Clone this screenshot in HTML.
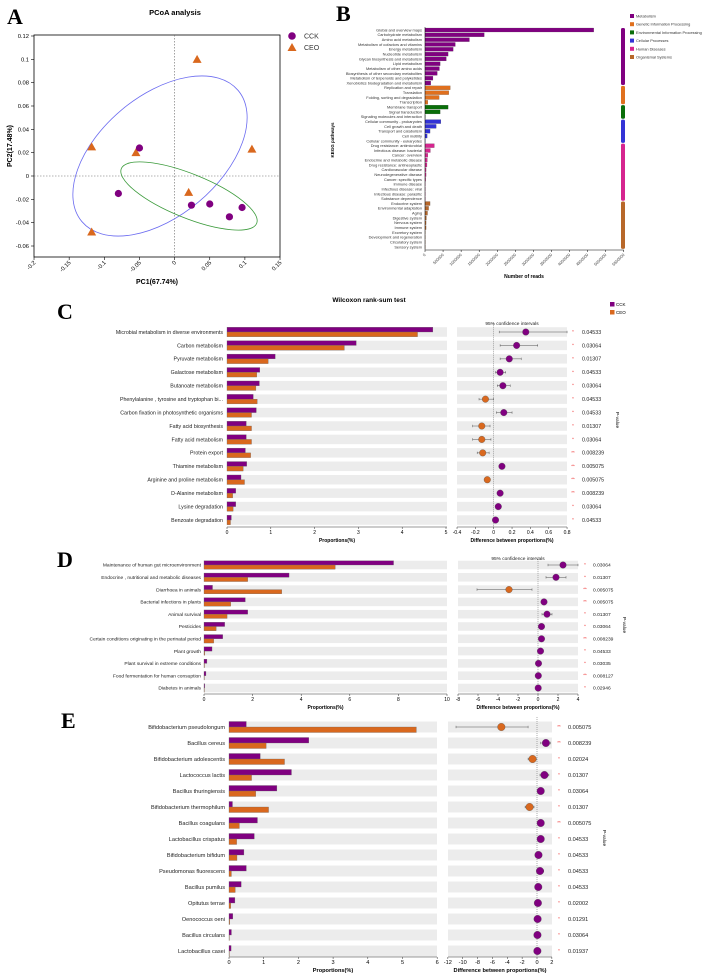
<!DOCTYPE html>
<html><head><meta charset="utf-8"><style>
html,body{margin:0;padding:0;background:#fff;}
svg{display:block;font-family:"Liberation Sans",sans-serif;}
</style></head><body>
<svg id="fig" width="708" height="980" viewBox="0 0 708 980" xmlns="http://www.w3.org/2000/svg"></svg>
<script>
// ---------- Panel A data ----------
const pcoaCCKx=[-0.05,-0.08,0.024,0.05,0.078,0.096];
const pcoaCCKy=[0.024,-0.015,-0.025,-0.024,-0.035,-0.027];
const pcoaCEOx=[0.032,-0.118,-0.055,0.11,0.02,-0.118];
const pcoaCEOy=[0.1,0.025,0.02,0.023,-0.014,-0.048];
const pcoaXTicks=[-0.2,-0.15,-0.1,-0.05,0,0.05,0.1,0.15];
const pcoaYTicks=[0.12,0.1,0.08,0.06,0.04,0.02,0,-0.02,-0.04,-0.06];
// ---------- Panel B data ----------
const keggNames=["Global and overview maps","Carbohydrate metabolism","Amino acid metabolism","Metabolism of cofactors and vitamins","Energy metabolism","Nucleotide metabolism","Glycan biosynthesis and metabolism","Lipid metabolism","Metabolism of other amino acids","Biosynthesis of other secondary metabolites","Metabolism of terpenoids and polyketides","Xenobiotics biodegradation and metabolism","Replication and repair","Translation","Folding, sorting and degradation","Transcription","Membrane transport","Signal transduction","Signaling molecules and interaction","Cellular community - prokaryotes","Cell growth and death","Transport and catabolism","Cell motility","Cellular community - eukaryotes","Drug resistance: antimicrobial","Infectious disease: bacterial","Cancer: overview","Endocrine and metabolic disease","Drug resistance: antineoplastic","Cardiovascular disease","Neurodegenerative disease","Cancer: specific types","Immune disease","Infectious disease: viral","Infectious disease: parasitic","Substance dependence","Endocrine system","Environmental adaptation","Aging","Digestive system","Nervous system","Immune system","Excretory system","Development and regeneration","Circulatory system","Sensory system"];
const keggReads=[4670000,1640000,1230000,840000,780000,640000,590000,420000,400000,340000,220000,160000,700000,660000,390000,80000,640000,420000,10000,440000,310000,140000,60000,10000,260000,150000,80000,65000,55000,30000,30000,20000,10000,10000,10000,10000,140000,100000,70000,40000,30000,30000,10000,10000,5000,5000];
const keggGroup=[0,0,0,0,0,0,0,0,0,0,0,0,1,1,1,1,2,2,2,3,3,3,3,3,4,4,4,4,4,4,4,4,4,4,4,4,5,5,5,5,5,5,5,5,5,5];
const keggGroupNames=["Metabolism","Genetic Information Processing","Environmental Information Processing","Cellular Processes","Human Diseases","Organismal Systems"];
const keggTicks=[0,500000,1000000,1500000,2000000,2500000,3000000,3500000,4000000,4500000,5000000,5500000];
// ---------- Panel C data ----------
const cNames=["Microbial metabolism in diverse environments","Carbon metabolism","Pyruvate metabolism","Galactose metabolism","Butanoate metabolism","Phenylalanine ,  tyrosine and tryptophan bi...","Carbon fixation in photosynthetic organisms","Fatty acid biosynthesis","Fatty acid metabolism","Protein export","Thiamine metabolism","Arginine and proline metabolism","D-Alanine metabolism","Lysine degradation","Benzoate degradation"];
const cCCK=[4.7,2.95,1.1,0.75,0.74,0.6,0.67,0.44,0.44,0.42,0.45,0.32,0.2,0.2,0.1];
const cCEO=[4.35,2.68,0.94,0.68,0.66,0.69,0.56,0.56,0.56,0.54,0.37,0.4,0.13,0.14,0.08];
const cDiff=[0.35,0.25,0.17,0.07,0.1,-0.09,0.11,-0.13,-0.13,-0.12,0.09,-0.07,0.07,0.05,0.02];
const cLo=[0.06,0.07,0.07,0.02,0.04,-0.16,0.03,-0.23,-0.23,-0.18,0.06,-0.07,0.07,0.05,0.02];
const cHi=[0.8,0.48,0.3,0.13,0.18,0.0,0.2,-0.04,-0.03,-0.05,0.12,-0.07,0.07,0.05,0.02];
const cP=["0.04533","0.03064","0.01307","0.04533","0.03064","0.04533","0.04533","0.01307","0.03064","0.008239","0.005075","0.005075","0.008239","0.03064","0.04533"];
const cStar=["*","*","*","*","*","*","*","*","*","**","**","**","**","*","*"];
const cBarTicks=[0,1,2,3,4,5];
const cCITicks=[-0.4,-0.2,0,0.2,0.4,0.6,0.8];
// ---------- Panel D data ----------
const dNames=["Maintenance of human gut microenvironment","Endocrine ,  nutritional and metabolic diseases","Diarrhoea in animals","Bacterial infections in plants","Animal survival","Pesticides","Certain conditions originating in the perinatal period","Plant growth","Plant survival in extreme conditions","Food fermentation for human consuption","Diabetes in animals"];
const dCCK=[7.8,3.5,0.35,1.7,1.8,0.85,0.77,0.33,0.12,0.08,0.03];
const dCEO=[5.4,1.8,3.2,1.1,0.95,0.5,0.4,0.03,0.02,0.01,0.01];
const dDiff=[2.5,1.8,-2.9,0.6,0.9,0.35,0.35,0.25,0.05,0.03,0.02];
const dLo=[1.0,0.8,-6.1,0.6,0.4,0.35,0.35,0.25,0.05,0.03,0.02];
const dHi=[4.0,2.8,-0.6,0.6,1.4,0.35,0.35,0.25,0.05,0.03,0.02];
const dP=["0.03064","0.01307","0.005075","0.005075","0.01307","0.03064","0.008239","0.04533","0.03035","0.008127","0.02946"];
const dStar=["*","*","**","**","*","*","**","*","*","**","*"];
const dBarTicks=[0,2,4,6,8,10];
const dCITicks=[-8,-6,-4,-2,0,2,4];
// ---------- Panel E data ----------
const eNames=["Bifidobacterium pseudolongum","Bacillus cereus","Bifidobacterium adolescentis","Lactococcus lactis","Bacillus thuringiensis","Bifidobacterium thermophilum","Bacillus coagulans","Lactobacillus crispatus","Bifidobacterium bifidum","Pseudomonas fluorescens","Bacillus pumilus","Opitutus terrae","Oenococcus oeni","Bacillus circulans","Lactobacillus casei"];
const eCCK=[0.5,2.3,0.9,1.8,1.38,0.1,0.82,0.73,0.43,0.5,0.35,0.17,0.11,0.07,0.06];
const eCEO=[5.4,1.07,1.6,0.65,0.77,1.14,0.3,0.22,0.23,0.07,0.18,0.05,0.02,0.01,0.01];
const eDiff=[-4.8,1.2,-0.6,1.0,0.5,-1.0,0.5,0.5,0.2,0.4,0.17,0.12,0.08,0.06,0.05];
const eLo=[-10.9,0.5,-1.2,0.4,0.1,-1.6,0.5,0.2,0.2,0.0,0.17,0.12,0.08,0.06,0.05];
const eHi=[-1.2,1.8,-0.1,1.6,0.9,-0.4,0.5,0.8,0.2,0.9,0.17,0.12,0.08,0.06,0.05];
const eP=["0.005075","0.008239","0.02024","0.01307","0.03064","0.01307","0.005075","0.04533","0.04533","0.04533","0.04533","0.02002","0.01291","0.03064","0.01937"];
const eStar=["**","**","*","*","*","*","**","*","*","*","*","*","*","*","*"];
const eBarTicks=[0,1,2,3,4,5,6];
const eCITicks=[-12,-10,-8,-6,-4,-2,0,2];

const NS="http://www.w3.org/2000/svg";
const svg=document.getElementById('fig');
function mk(tag,attrs,parent,text){const e=document.createElementNS(NS,tag);for(const k in attrs)e.setAttribute(k,attrs[k]);if(text!==undefined)e.textContent=text;(parent||svg).appendChild(e);return e;}
function grp(name,parent){const g=mk('g',{},parent);return g;}
const PUR="#800080",ORA="#d9681e";

// ===== Panel A =====
(function(){
const g=grp('pcoa-panel');
const xs=v=>174.6+v*246/0.35, ys=v=>176-v*1166.7;
let t=mk('text',{x:7,y:24,'font-family':'Liberation Serif,serif','font-size':22,'font-weight':'bold'},g,'A');

t=mk('text',{x:175,y:15,'font-size':7.5,'font-weight':'bold','text-anchor':'middle'},g,'PCoA analysis');

const r=mk('rect',{x:34,y:35,width:246,height:222,fill:'none',stroke:'#000','stroke-width':0.8},g);

let l=mk('line',{x1:xs(0),x2:xs(0),y1:35,y2:257,stroke:'#666','stroke-dasharray':'1.5,1.5','stroke-width':0.6},g);

l=mk('line',{x1:34,x2:280,y1:ys(0),y2:ys(0),stroke:'#666','stroke-dasharray':'1.5,1.5','stroke-width':0.6},g);

pcoaYTicks.forEach(v=>{const tk=mk('line',{x1:31,x2:34,y1:ys(v),y2:ys(v),stroke:'#000','stroke-width':0.6},g);

const tl=mk('text',{x:29,y:ys(v)+2,'font-size':5.8,'text-anchor':'end'},g,String(v));
});
pcoaXTicks.forEach(v=>{const x=xs(v);const tk=mk('line',{x1:x,x2:x,y1:257,y2:260,stroke:'#000','stroke-width':0.6},g);

const tl=mk('text',{x:x+2,y:263,'font-size':5.8,'text-anchor':'end',transform:`rotate(-45 ${x+2} 263)`},g,String(v));
});
t=mk('text',{x:157,y:284,'font-size':7,'font-weight':'bold','text-anchor':'middle'},g,'PC1(67.74%)');

t=mk('text',{x:12,y:146,'font-size':7,'font-weight':'bold','text-anchor':'middle',transform:'rotate(-90 12 146)'},g,'PC2(17.48%)');

let e=mk('ellipse',{cx:160,cy:156,rx:102,ry:60,fill:'none',stroke:'#6b6bf0','stroke-width':0.8,transform:'rotate(-40 160 156)'},g);

e=mk('ellipse',{cx:189,cy:196,rx:73,ry:22,fill:'none',stroke:'#3a9a3a','stroke-width':0.8,transform:'rotate(22 189 196)'},g);

pcoaCEOx.forEach((v,i)=>{const x=xs(v),y=ys(pcoaCEOy[i]);
const p=mk('polygon',{points:`${x},${y-4.5} ${x-4.5},${y+3.5} ${x+4.5},${y+3.5}`,fill:ORA},g);
});
pcoaCCKx.forEach((v,i)=>{const c=mk('circle',{cx:xs(v),cy:ys(pcoaCCKy[i]),r:3.6,fill:PUR},g);
});
let c=mk('circle',{cx:292,cy:36,r:3.8,fill:PUR},g);
let p=mk('polygon',{points:'292,43 287.5,51 296.5,51',fill:ORA},g);
t=mk('text',{x:304,y:38.5,'font-size':7,fill:'#333'},g,'CCK');
t=mk('text',{x:304,y:50,'font-size':7,fill:'#333'},g,'CEO');
})();

// ===== Panel B =====
(function(){
const g=grp('kegg-panel');
const cols=["#800080","#e0701e","#0a6e0a","#3333d6","#d6258f","#b8682a"];
const x0=425,pxPer=18.07/500000,y0=30,step=4.82;
let t=mk('text',{x:336,y:21,'font-family':'Liberation Serif,serif','font-size':22,'font-weight':'bold'},g,'B');

keggNames.forEach((n,i)=>{const y=y0+i*step;
const tl=mk('text',{x:422,y:y+1.4,'font-size':3.9,'text-anchor':'end',fill:'#333'},g,n);

const b=mk('rect',{x:x0,y:y-2,width:Math.max(0.3,keggReads[i]*pxPer),height:4,fill:cols[keggGroup[i]],stroke:'#555','stroke-width':0.2},g);
});
let ax=mk('line',{x1:x0,x2:x0,y1:27,y2:250,stroke:'#000','stroke-width':0.5},g);
ax=mk('line',{x1:x0,x2:x0+5500000*pxPer,y1:250,y2:250,stroke:'#000','stroke-width':0.5},g);
keggTicks.forEach(v=>{const x=x0+v*pxPer;const tk=mk('line',{x1:x,x2:x,y1:250,y2:252,stroke:'#000','stroke-width':0.5},g);

const tl=mk('text',{x:x+1,y:255,'font-size':4,'text-anchor':'end',fill:'#333',transform:`rotate(-45 ${x+1} 255)`},g,String(v));
});
t=mk('text',{x:524,y:278,'font-size':5,'font-weight':'bold','text-anchor':'middle'},g,'Number of reads');

t=mk('text',{x:334,y:140,'font-size':4.5,'font-weight':'bold','text-anchor':'middle',transform:'rotate(-90 334 140)'},g,'KEGG pathways');

for(let k=0;k<6;k++){const idx=keggGroup.map((gg,i)=>gg===k?i:-1).filter(i=>i>=0);
const ya=y0+idx[0]*step-2,yb=y0+idx[idx.length-1]*step+2;
const s=mk('rect',{x:621,y:ya,width:4,height:yb-ya,rx:1.5,fill:cols[k]},g);

const lg=mk('rect',{x:630,y:14+k*8.2,width:4,height:4,fill:cols[k]},g);

const lt=mk('text',{x:636,y:17.5+k*8.2,'font-size':3.9,fill:'#333'},g,keggGroupNames[k]);
}
})();

// ===== Generic extended error bar panel =====
function ebPanel(o){
const g=grp(o.name);
const bx=v=>o.bx0+v*o.bpx, cx=v=>o.cx0+v*o.cpx;
o.names.forEach((n,i)=>{const y=o.y0+i*o.step,h=o.band;
const tl=mk('text',{x:o.labX,y:y+o.fs*0.35,'font-size':o.fs,'text-anchor':'end',fill:'#222'},g,n);

const bb=mk('rect',{x:o.bx0,y:y-h/2,width:o.bEnd-o.bx0,height:h,fill:'#ececec'},g);

const cb=mk('rect',{x:o.cL,y:y-h/2,width:o.cR-o.cL,height:h,fill:'#ececec'},g);

const b1=mk('rect',{x:o.bx0,y:y-h/2,width:Math.max(0.4,bx(o.cck[i])-o.bx0),height:h/2,fill:PUR,stroke:'#666','stroke-width':0.3},g);

const b2=mk('rect',{x:o.bx0,y:y,width:Math.max(0.4,bx(o.ceo[i])-o.bx0),height:h/2,fill:ORA,stroke:'#666','stroke-width':0.3},g);

const st=mk('text',{x:o.starX,y:y+1,'font-size':4.5,fill:'#e33','text-anchor':'middle'},g,o.star[i]);

const pt=mk('text',{x:o.pX,y:y+o.fs*0.35,'font-size':o.fs,fill:'#222'},g,o.p[i]);
});
const zl=mk('line',{x1:cx(0),x2:cx(0),y1:o.y0-o.step/2-2,y2:o.axY,stroke:'#777','stroke-dasharray':'1,1','stroke-width':0.6},g);

o.names.forEach((n,i)=>{const y=o.y0+i*o.step;
const el=mk('line',{x1:cx(o.lo[i]),x2:cx(o.hi[i]),y1:y,y2:y,stroke:'#555','stroke-width':0.5},g);

[o.lo[i],o.hi[i]].forEach(v=>{const cap=mk('line',{x1:cx(v),x2:cx(v),y1:y-1.2,y2:y+1.2,stroke:'#555','stroke-width':0.5},g);
});
const c=mk('circle',{cx:cx(o.diff[i]),cy:y,r:o.r,fill:o.diff[i]>=0?PUR:ORA,stroke:'#444','stroke-width':0.3},g);
});
let a=mk('line',{x1:o.bx0,x2:o.bEnd,y1:o.axY,y2:o.axY,stroke:'#333','stroke-width':0.5},g);
a=mk('line',{x1:o.cL,x2:o.cR,y1:o.axY,y2:o.axY,stroke:'#333','stroke-width':0.5},g);
o.bTicks.forEach(v=>{const x=bx(v);const tk=mk('line',{x1:x,x2:x,y1:o.axY,y2:o.axY+2,stroke:'#333','stroke-width':0.5},g);

const tl=mk('text',{x:x,y:o.axY+7,'font-size':o.tfs,'text-anchor':'middle'},g,String(v));
});
o.cTicks.forEach(v=>{const x=cx(v);const tk=mk('line',{x1:x,x2:x,y1:o.axY,y2:o.axY+2,stroke:'#333','stroke-width':0.5},g);

const tl=mk('text',{x:x,y:o.axY+7,'font-size':o.tfs,'text-anchor':'middle'},g,String(v));
});
let t=mk('text',{x:(o.bx0+o.bEnd)/2,y:o.axY+15,'font-size':o.tfs,'font-weight':'bold','text-anchor':'middle'},g,'Proportions(%)');

t=mk('text',{x:(o.cL+o.cR)/2,y:o.axY+15,'font-size':o.tfs,'font-weight':'bold','text-anchor':'middle'},g,'Difference between proportions(%)');

t=mk('text',{x:o.pvX,y:o.pvY,'font-size':4.8,'text-anchor':'middle',transform:`rotate(90 ${o.pvX} ${o.pvY})`},g,'P-value');

if(o.ciTitleY){t=mk('text',{x:(o.cL+o.cR)/2,y:o.ciTitleY,'font-size':4.8,'text-anchor':'middle',fill:'#222'},g,'95% confidence intervals');
}
t=mk('text',{x:o.letX,y:o.letY,'font-family':'Liberation Serif,serif','font-size':22,'font-weight':'bold'},g,o.letter);

return g;}

// Panel C
(function(){
const g=ebPanel({name:'wilcoxon-panel-c',letter:'C',letX:57,letY:319,names:cNames,cck:cCCK,ceo:cCEO,diff:cDiff,lo:cLo,hi:cHi,p:cP,star:cStar,
y0:332,step:13.43,band:9.5,labX:223,fs:5.3,bx0:227,bpx:43.8,bEnd:447,cL:457,cR:567,cx0:493.7,cpx:91.7,starX:573,pX:582,
axY:527,tfs:5,bTicks:cBarTicks,cTicks:cCITicks,pvX:616,pvY:420,ciTitleY:325,r:3.3});
let t=mk('text',{x:369,y:302,'font-size':6.5,'font-weight':'bold','text-anchor':'middle'},g,'Wilcoxon rank-sum test');

let r=mk('rect',{x:610,y:302,width:4.5,height:4.5,fill:PUR},g);
r=mk('rect',{x:610,y:310,width:4.5,height:4.5,fill:ORA},g);
t=mk('text',{x:616,y:306,'font-size':4.5},g,'CCK');
t=mk('text',{x:616,y:314,'font-size':4.5},g,'CEO');
})();
// Panel D
ebPanel({name:'wilcoxon-panel-d',letter:'D',letX:57,letY:567,names:dNames,cck:dCCK,ceo:dCEO,diff:dDiff,lo:dLo,hi:dHi,p:dP,star:dStar,
y0:565,step:12.3,band:8.5,labX:201,fs:4.9,bx0:204,bpx:24.3,bEnd:447,cL:458,cR:578,cx0:538,cpx:10,starX:585,pX:593,
axY:694,tfs:5,bTicks:dBarTicks,cTicks:dCITicks,pvX:623,pvY:625,ciTitleY:560,r:3.3});
// Panel E
ebPanel({name:'wilcoxon-panel-e',letter:'E',letX:61,letY:728,names:eNames,cck:eCCK,ceo:eCEO,diff:eDiff,lo:eLo,hi:eHi,p:eP,star:eStar,
y0:727,step:16,band:11,labX:225,fs:5.6,bx0:229,bpx:34.7,bEnd:437,cL:448,cR:552,cx0:537,cpx:7.43,starX:559,pX:568,
axY:957,tfs:5.6,bTicks:eBarTicks,cTicks:eCITicks,pvX:603,pvY:838,ciTitleY:0,r:3.8});
</script>
</body></html>
